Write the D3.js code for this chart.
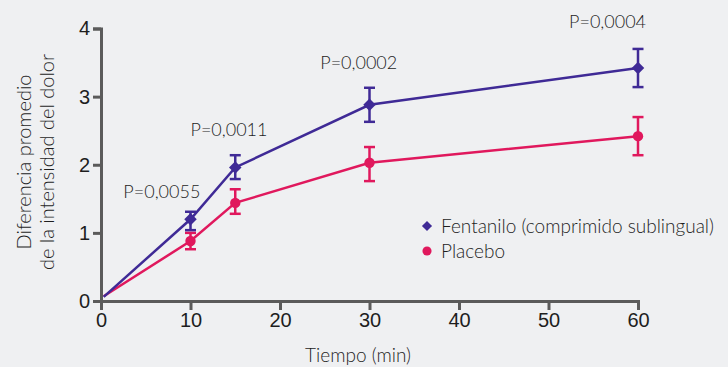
<!DOCTYPE html>
<html>
<head>
<meta charset="utf-8">
<script src="https://cdn.jsdelivr.net/npm/d3@7"></script>
<style>
  body { margin: 0; background: #eff0f2; }
  svg { display: block; font-family: Lato, "Open Sans", sans-serif; font-weight: 300; }
  .tick text { font-size: 20px; fill: #1e1e1e; }
</style>
</head>
<body>
<svg id="chart" width="728" height="367"></svg>
<script>
// time points (min)
let times = [0.3, 10, 15, 30, 60];

let fentanilo = [0.06, 1.20, 1.96, 2.88, 3.42];
let fentaniloLow = [null, 1.04, 1.79, 2.63, 3.14];
let fentaniloHigh = [null, 1.31, 2.14, 3.13, 3.70];

let placebo = [0.07, 0.88, 1.44, 2.03, 2.42];
let placeboLow = [null, 0.76, 1.28, 1.76, 2.14];
let placeboHigh = [null, 1.00, 1.64, 2.26, 2.70];

let pTimes = [6.8, 14.3, 28.8, 56.6];
let pValues = [1.51, 2.42, 3.41, 4.01];
let pLabels = ["P=0,0055", "P=0,0011", "P=0,0002", "P=0,0004"];

let xTicks = [0, 10, 20, 30, 40, 50, 60];
let yTicks = [0, 1, 2, 3, 4];

let purple = "#3f2a96";
let pink = "#e0185d";
let axisColor = "#5b5b5b";
let textColor = "#1e1e1e";

let svg = d3.select("#chart");

let x = d3.scaleLinear().domain([0, 60]).range([101, 638]);
let y = d3.scaleLinear().domain([0, 4]).range([301, 28.5]);

// axes
let xAxis = svg.append("g").attr("transform", "translate(0,301)")
	.call(d3.axisBottom(x).tickValues(xTicks).tickFormat(d3.format("d")).tickSize(9).tickPadding(3).tickSizeOuter(9));
let yAxis = svg.append("g").attr("transform", "translate(101,0)")
	.call(d3.axisLeft(y).tickValues(yTicks).tickFormat(d3.format("d")).tickSize(8).tickPadding(3).tickSizeOuter(8));

[xAxis, yAxis].forEach(function(a) {
	a.selectAll("path, line").attr("stroke", axisColor).attr("stroke-width", 3);
	a.select(".domain").attr("stroke-linejoin", "miter");
});

// axis titles
svg.append("text").attr("x", 358).attr("y", 362).attr("text-anchor", "middle")
	.style("font-size", "19px").style("fill", textColor).text("Tiempo (min)");

let yTitle = svg.append("text").attr("transform", "translate(31,162) rotate(-90)")
	.attr("text-anchor", "middle").style("font-size", "20px").style("fill", textColor);
yTitle.append("tspan").attr("x", 0).attr("dy", 0).text("Diferencia promedio");
yTitle.append("tspan").attr("x", 0).attr("dy", 23).text("de la intensidad del dolor");

function drawSeries(values, low, high, color, shape)
{
	let pts = times.map(function(t, i) { return {t: t, v: values[i], lo: low[i], hi: high[i]}; });

	svg.append("path").datum(pts)
		.attr("fill", "none").attr("stroke", color).attr("stroke-width", 2.5)
		.attr("d", d3.line().x(function(d) { return x(d.t); }).y(function(d) { return y(d.v); }));

	let bars = svg.append("g").attr("stroke", color).attr("stroke-width", 2.5)
		.selectAll("g").data(pts.filter(function(d) { return d.lo != null; })).enter().append("g");

	bars.append("line").attr("x1", function(d) { return x(d.t); }).attr("x2", function(d) { return x(d.t); })
		.attr("y1", function(d) { return y(d.lo); }).attr("y2", function(d) { return y(d.hi); });
	bars.append("line").attr("x1", function(d) { return x(d.t) - 5.5; }).attr("x2", function(d) { return x(d.t) + 5.5; })
		.attr("y1", function(d) { return y(d.lo); }).attr("y2", function(d) { return y(d.lo); });
	bars.append("line").attr("x1", function(d) { return x(d.t) - 5.5; }).attr("x2", function(d) { return x(d.t) + 5.5; })
		.attr("y1", function(d) { return y(d.hi); }).attr("y2", function(d) { return y(d.hi); });

	svg.append("g").selectAll("path").data(pts.filter(function(d) { return d.lo != null; })).enter().append("path")
		.attr("transform", function(d) { return "translate(" + x(d.t) + "," + y(d.v) + ")"; })
		.attr("d", d3.symbol().type(shape).size(shape === d3.symbolCircle ? 85 : 100))
		.attr("fill", color);
}

drawSeries(placebo, placeboLow, placeboHigh, pink, d3.symbolCircle);
drawSeries(fentanilo, fentaniloLow, fentaniloHigh, purple, d3.symbolDiamond2);

// p-value labels
svg.append("g").selectAll("text").data(pLabels).enter().append("text")
	.attr("x", function(d, i) { return x(pTimes[i]); })
	.attr("y", function(d, i) { return y(pValues[i]); })
	.attr("text-anchor", "middle").style("font-size", "18px").style("fill", textColor)
	.text(function(d) { return d; });

// legend
let legendNames = ["Fentanilo (comprimido sublingual)", "Placebo"];
let legendColors = [purple, pink];
let legendShapes = [d3.symbolDiamond2, d3.symbolCircle];

let legend = svg.append("g").selectAll("g").data(legendNames).enter().append("g")
	.attr("transform", function(d, i) { return "translate(427," + (226 + i * 25) + ")"; });
legend.append("path")
	.attr("d", function(d, i) { return d3.symbol().type(legendShapes[i]).size(65)(); })
	.attr("fill", function(d, i) { return legendColors[i]; });
legend.append("text").attr("x", 14).attr("y", 7)
	.style("font-size", "19px").style("fill", textColor).text(function(d) { return d; });
</script>
</body>
</html>
